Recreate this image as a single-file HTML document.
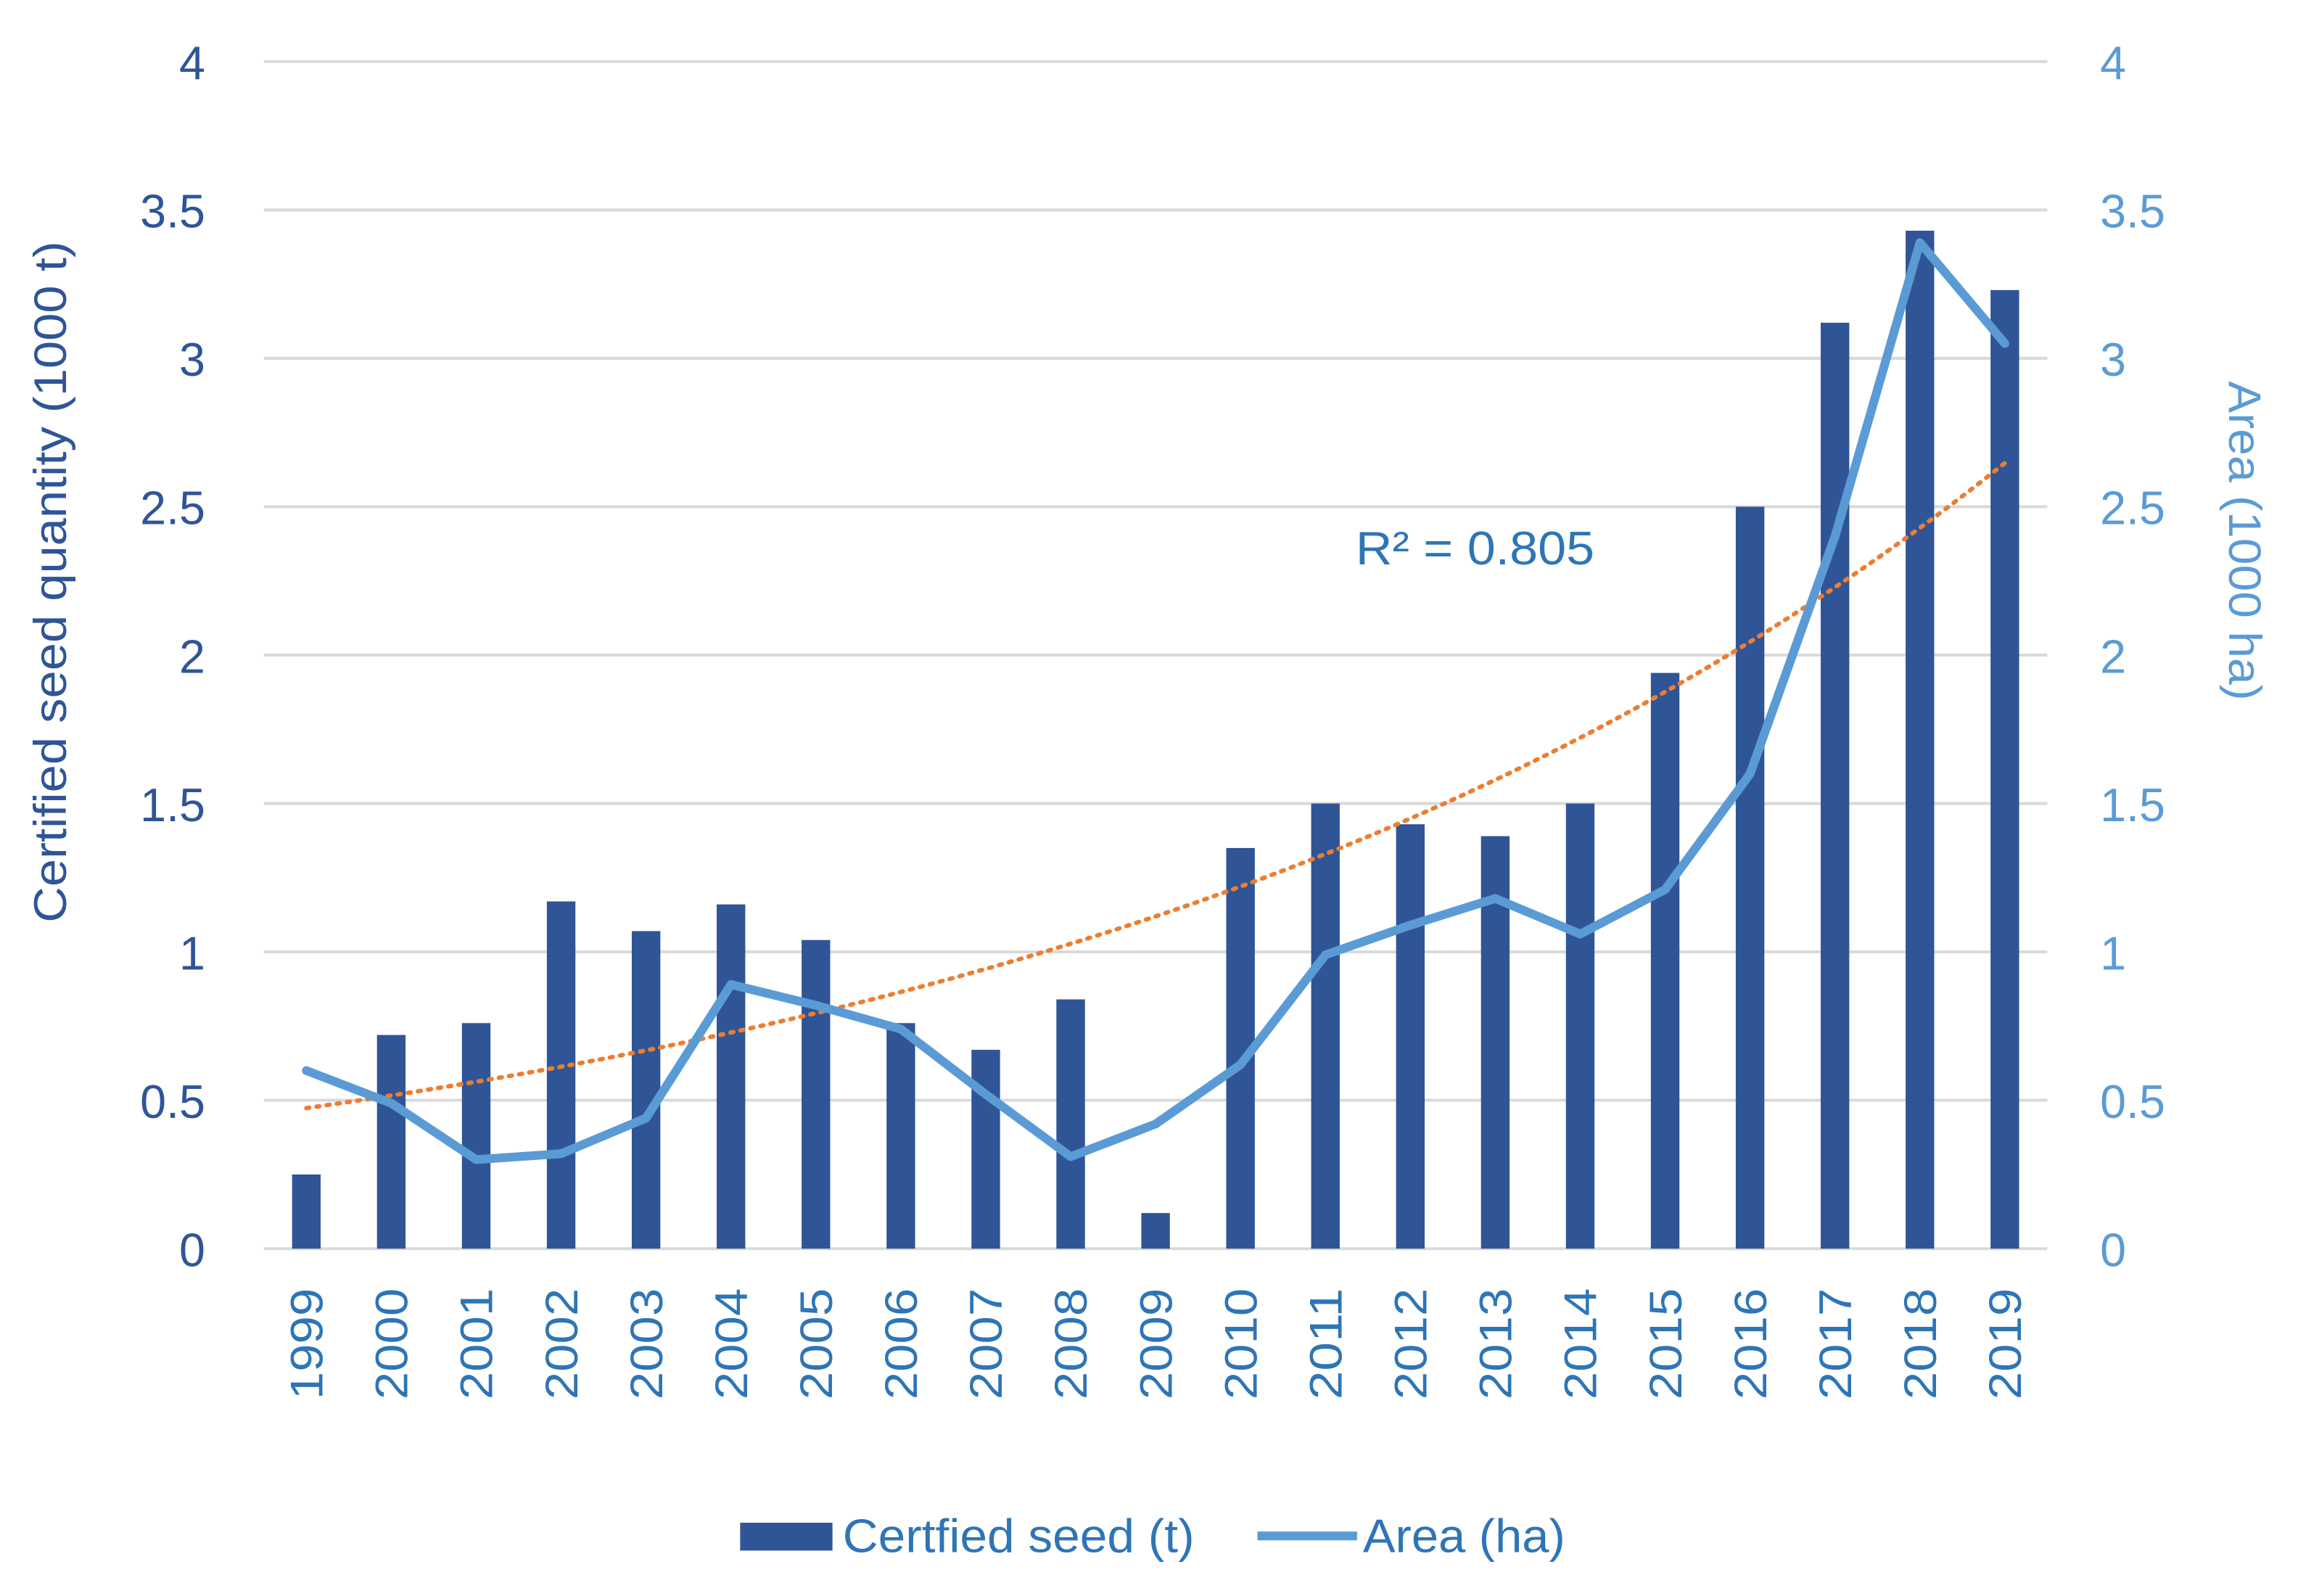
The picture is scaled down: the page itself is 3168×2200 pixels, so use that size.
<!DOCTYPE html>
<html><head><meta charset="utf-8"><style>html,body{margin:0;padding:0;background:#fff}svg{display:block}</style></head>
<body>
<svg id="chart" width="3168" height="2200" viewBox="0 0 1568 1089" xmlns="http://www.w3.org/2000/svg" font-family="'Liberation Sans', sans-serif">
<rect width="1568" height="1089" fill="#fff"/>
<g id="grid"></g><g id="bars"></g><g id="trend"></g><g id="line"></g><g id="labels"></g>
<text transform="translate(45,397) rotate(-90)" text-anchor="middle" font-size="31" textLength="465" lengthAdjust="spacingAndGlyphs" fill="#2F5597">Certified seed quantity (1000 t)</text>
<text transform="translate(1521,369) rotate(90)" text-anchor="middle" font-size="31" textLength="218" lengthAdjust="spacingAndGlyphs" fill="#5B9BD5">Area (1000 ha)</text>
<text x="925" y="385" font-size="32" textLength="163" lengthAdjust="spacingAndGlyphs" fill="#2E75B6">R² = 0.805</text>
<g>
<rect x="505" y="1039" width="63" height="19" fill="#2F5597"/>
<text x="575" y="1059" font-size="32" textLength="240" lengthAdjust="spacingAndGlyphs" fill="#2E75B6">Certfied seed (t)</text>
<line x1="858" y1="1048" x2="926" y2="1048" stroke="#5B9BD5" stroke-width="6"/>
<text x="930" y="1059" font-size="32" textLength="138" lengthAdjust="spacingAndGlyphs" fill="#2E75B6">Area (ha)</text>
</g>
</svg>
<script>
const years = ["1999","2000","2001","2002","2003","2004","2005","2006","2007","2008","2009","2010","2011","2012","2013","2014","2015","2016","2017","2018","2019"];
const seedValues = [0.25,0.72,0.76,1.17,1.07,1.16,1.04,0.76,0.67,0.84,0.12,1.35,1.50,1.43,1.39,1.50,1.94,2.50,3.12,3.43,3.23];
const areaValues = [0.60,0.49,0.30,0.32,0.44,0.89,0.82,0.74,0.52,0.31,0.42,0.62,0.99,1.09,1.18,1.06,1.21,1.60,2.40,3.39,3.05];
const tickValues = [0,0.5,1,1.5,2,2.5,3,3.5,4];
const tickLabels = ["0","0.5","1","1.5","2","2.5","3","3.5","4"];
const NS="http://www.w3.org/2000/svg";
const X0=180,X1=1397,Y0=852,Y4=42;
const band=(X1-X0)/years.length;
const xc=i=>X0+band*(i+0.5);
const y=v=>Y0-(Y0-Y4)*v/4;
function mk(tag,attrs,parent){const e=document.createElementNS(NS,tag);for(const k in attrs)e.setAttribute(k,attrs[k]);document.getElementById(parent).appendChild(e);return e;}
tickValues.forEach((v,i)=>{
  const g=mk('line',{x1:X0,x2:X1,y1:y(v),y2:y(v),stroke:'#d9d9d9','stroke-width':2},'grid');
  
  
  const l=mk('text',{x:140,y:y(v)+12,'text-anchor':'end','font-size':32,fill:'#2F5597'},'labels');
  l.textContent=tickLabels[i];
  
  
  const r=mk('text',{x:1433,y:y(v)+12,'text-anchor':'start','font-size':32,fill:'#5B9BD5'},'labels');
  r.textContent=tickLabels[i];
  
  
});
const bw=19.5;
seedValues.forEach((v,i)=>{
  const b=mk('rect',{x:xc(i)-bw/2,y:y(v),width:bw,height:Y0-y(v),fill:'#2F5597'},'bars');
  
  
  const t=mk('text',{transform:`translate(${xc(i)+11},${879}) rotate(-90)`,'text-anchor':'end','font-size':31,'textLength':76,'lengthAdjust':'spacingAndGlyphs',fill:'#2E75B6'},'labels');
  t.textContent=years[i];
  
  
});
let n=seedValues.length,sx=0,sy=0,sxx=0,sxy=0;
seedValues.forEach((v,i)=>{const ly=Math.log(v);sx+=i;sy+=ly;sxx+=i*i;sxy+=i*ly;});
const bcoef=(n*sxy-sx*sy)/(n*sxx-sx*sx),acoef=Math.exp((sy-bcoef*sx)/n);
let td='';for(let k=0;k<=100;k++){const t=k/100*(n-1);td+=(k?'L':'M')+(X0+band*(t+0.5))+','+y(acoef*Math.exp(bcoef*t));}
const tr=mk('path',{d:td,fill:'none',stroke:'#ED7D31','stroke-width':3,'stroke-dasharray':'2 5','stroke-linecap':'round'},'trend');


const ld=areaValues.map((v,i)=>(i?'L':'M')+xc(i)+','+y(v)).join('');
const ln=mk('path',{d:ld,fill:'none',stroke:'#5B9BD5','stroke-width':6,'stroke-linejoin':'round','stroke-linecap':'round'},'line');


</script>
</body></html>
